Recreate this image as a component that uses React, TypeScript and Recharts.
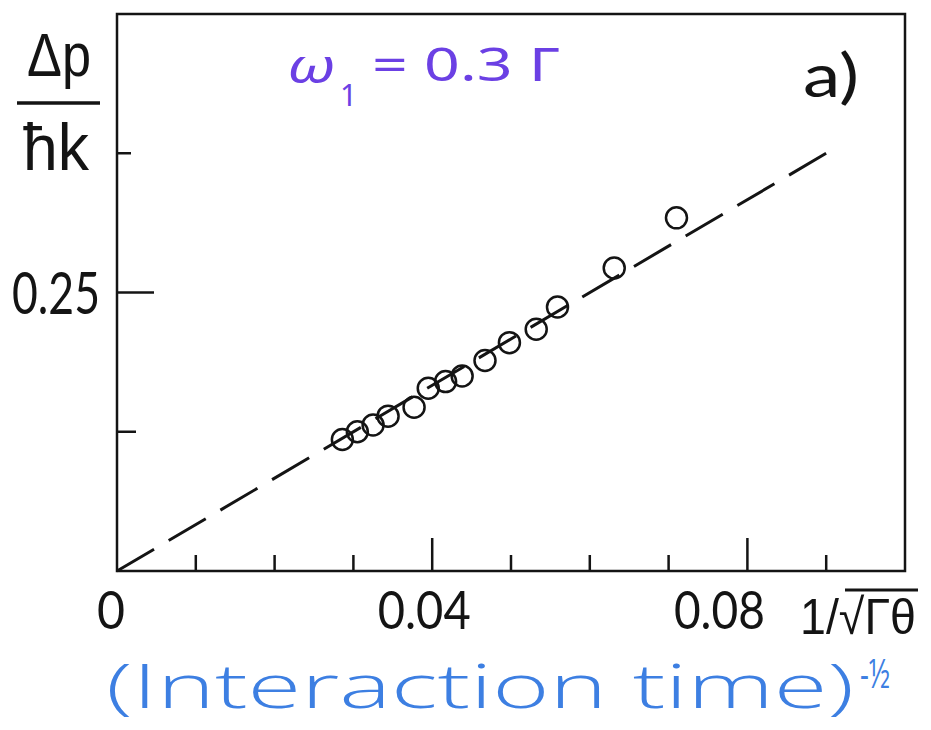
import React from "react";
import {
  ComposedChart,
  XAxis,
  YAxis,
  Scatter,
  ReferenceLine,
  ReferenceArea,
} from "recharts";

// axis ticks (1/sqrt(Gamma*theta) on x, dp/hk on y)
const xTicks = [0, 0.01, 0.02, 0.03, 0.04, 0.05, 0.06, 0.07, 0.08, 0.09];
const xLabelValues = [0, 0.04, 0.08];
const xLabels = ["0", "0.04", "0.08"];
const yTicks = [0.125, 0.25, 0.375];
const yLabelValues = [0.25];
const yLabels = ["0.25"];

// measured points
const pointX = [
  0.0286, 0.0305, 0.0325, 0.0344, 0.0377, 0.0395, 0.0417, 0.0438, 0.0467,
  0.0498, 0.0532, 0.0559, 0.0631, 0.071,
];
const pointY = [
  0.118, 0.125, 0.131, 0.139, 0.147, 0.164, 0.17, 0.175, 0.189, 0.205, 0.217,
  0.237, 0.272, 0.317,
];

// dashed linear fit through the origin
const fitX = [0, 0.09];
const fitY = [0, 0.375];

const INK = "#141414";
const LABEL_FONT = "Lato, 'Liberation Sans', sans-serif";
const TITLE_FONT = "'Liberation Sans', Arial, sans-serif";

const points = pointX.map((x, i) => ({ x, y: pointY[i] }));

const same = (a: number, b: number) => Math.abs(a - b) < 1e-9;

function XTick(props: any) {
  const { x, y, payload } = props;
  const v = payload.value as number;
  const i = xLabelValues.findIndex((l) => same(l, v));
  const len = same(v, 0) ? 0 : i > 0 ? 33 : 16;
  const shift = [-6, -8, -28][i] ?? 0;
  const widths = [28, 93, 91];
  return (
    <g>
      {len > 0 && (
        <line x1={x} y1={y} x2={x} y2={y - len} stroke={INK} strokeWidth={2.5} />
      )}
      {i >= 0 && (
        <text
          x={x + shift}
          y={y + 58}
          textAnchor="middle"
          fontFamily={LABEL_FONT}
          fontSize={53}
          fill={INK}
          textLength={widths[i]}
          lengthAdjust="spacingAndGlyphs"
        >
          {xLabels[i]}
        </text>
      )}
    </g>
  );
}

function YTick(props: any) {
  const { x, y, payload } = props;
  const v = payload.value as number;
  const i = yLabelValues.findIndex((l) => same(l, v));
  const len = i >= 0 ? 37 : v < 0.2 ? 19 : 14;
  return (
    <g>
      <line x1={x} y1={y} x2={x + len} y2={y} stroke={INK} strokeWidth={2.5} />
      {i >= 0 && (
        <text
          x={x - 17}
          y={y + 21}
          textAnchor="end"
          fontFamily={LABEL_FONT}
          fontSize={58}
          fill={INK}
          textLength={88}
          lengthAdjust="spacingAndGlyphs"
        >
          {yLabels[i]}
        </text>
      )}
    </g>
  );
}

function Ring(props: any) {
  const { cx, cy } = props;
  return <circle cx={cx} cy={cy} r={10.5} fill="none" stroke={INK} strokeWidth={2.5} />;
}

export default function App() {
  const purple = "#6b40e4";
  const blue = "#3d7fe2";
  return (
    <div style={{ position: "absolute", left: 0, top: 0, width: 931, height: 730, background: "#fff" }}>
      <ComposedChart
        width={931}
        height={730}
        data={points}
        margin={{ top: 14, right: 26, bottom: 158, left: 116 }}
      >
        <XAxis
          dataKey="x"
          type="number"
          domain={[0, 0.1]}
          ticks={xTicks}
          interval={0}
          height={1}
          tickSize={0}
          tickMargin={0}
          axisLine={false}
          tickLine={false}
          tick={(p: any) => <XTick {...p} />}
        />
        <YAxis
          dataKey="y"
          type="number"
          domain={[0, 0.5]}
          ticks={yTicks}
          interval={0}
          width={1}
          tickSize={0}
          tickMargin={0}
          axisLine={false}
          tickLine={false}
          tick={(p: any) => <YTick {...p} />}
        />
        <ReferenceArea
          x1={0}
          x2={0.1}
          y1={0}
          y2={0.5}
          fill="none"
          stroke={INK}
          strokeWidth={2.5}
        />
        <ReferenceLine
          segment={[
            { x: fitX[0], y: fitY[0] },
            { x: fitX[1], y: fitY[1] },
          ]}
          stroke={INK}
          strokeWidth={3}
          strokeDasharray="43 17"
        />
        <Scatter data={points} dataKey="y" shape={(p: any) => <Ring {...p} />} isAnimationActive={false} />
      </ComposedChart>

      <svg
        width={931}
        height={730}
        style={{ position: "absolute", left: 0, top: 0, pointerEvents: "none" }}
      >
        {/* y axis title: Δp / ħk */}
        <text x={59} y={76} textAnchor="middle" fontFamily={TITLE_FONT} fontSize={62} fill={INK} textLength={64} lengthAdjust="spacingAndGlyphs">
          Δp
        </text>
        <line x1={17} y1={103} x2={100} y2={103} stroke={INK} strokeWidth={3.5} />
        <text x={56} y={170} textAnchor="middle" fontFamily={TITLE_FONT} fontSize={66} fill={INK} textLength={66} lengthAdjust="spacingAndGlyphs">
          ħk
        </text>

        {/* panel tag */}
        <text x={803} y={97} fontFamily={LABEL_FONT} fontSize={60} fill={INK} textLength={56} lengthAdjust="spacingAndGlyphs">
          a)
        </text>

        {/* x axis unit */}
        <text x={800} y={634} fontFamily={TITLE_FONT} fontSize={50} fill={INK} textLength={116} lengthAdjust="spacingAndGlyphs">
          1/√Γθ
        </text>
        <line x1={845} y1={590} x2={918} y2={590} stroke={INK} strokeWidth={3} />

        {/* handwritten notes */}
        <text x={287} y={83} fontFamily="'Noto Sans', sans-serif" fontStyle="italic" fontSize={48} fill={purple} textLength={48} lengthAdjust="spacingAndGlyphs">
          ω
        </text>
        <text x={340} y={106} fontFamily="'Noto Sans', sans-serif" fontSize={30} fill={purple}>
          1
        </text>
        <text x={372} y={81} fontFamily="'Noto Sans', sans-serif" fontSize={46} fill={purple} textLength={188} lengthAdjust="spacingAndGlyphs">
          = 0.3 Γ
        </text>

        <text x={106} y={708} fontFamily="'Open Sans', sans-serif" fontWeight={300} fontSize={60} fill={blue} textLength={748} lengthAdjust="spacingAndGlyphs">
          (Interaction time)
        </text>
        <text x={860} y={688} fontFamily="'Open Sans', sans-serif" fontSize={40} fill={blue} textLength={30} lengthAdjust="spacingAndGlyphs">
          -½
        </text>
      </svg>
    </div>
  );
}
